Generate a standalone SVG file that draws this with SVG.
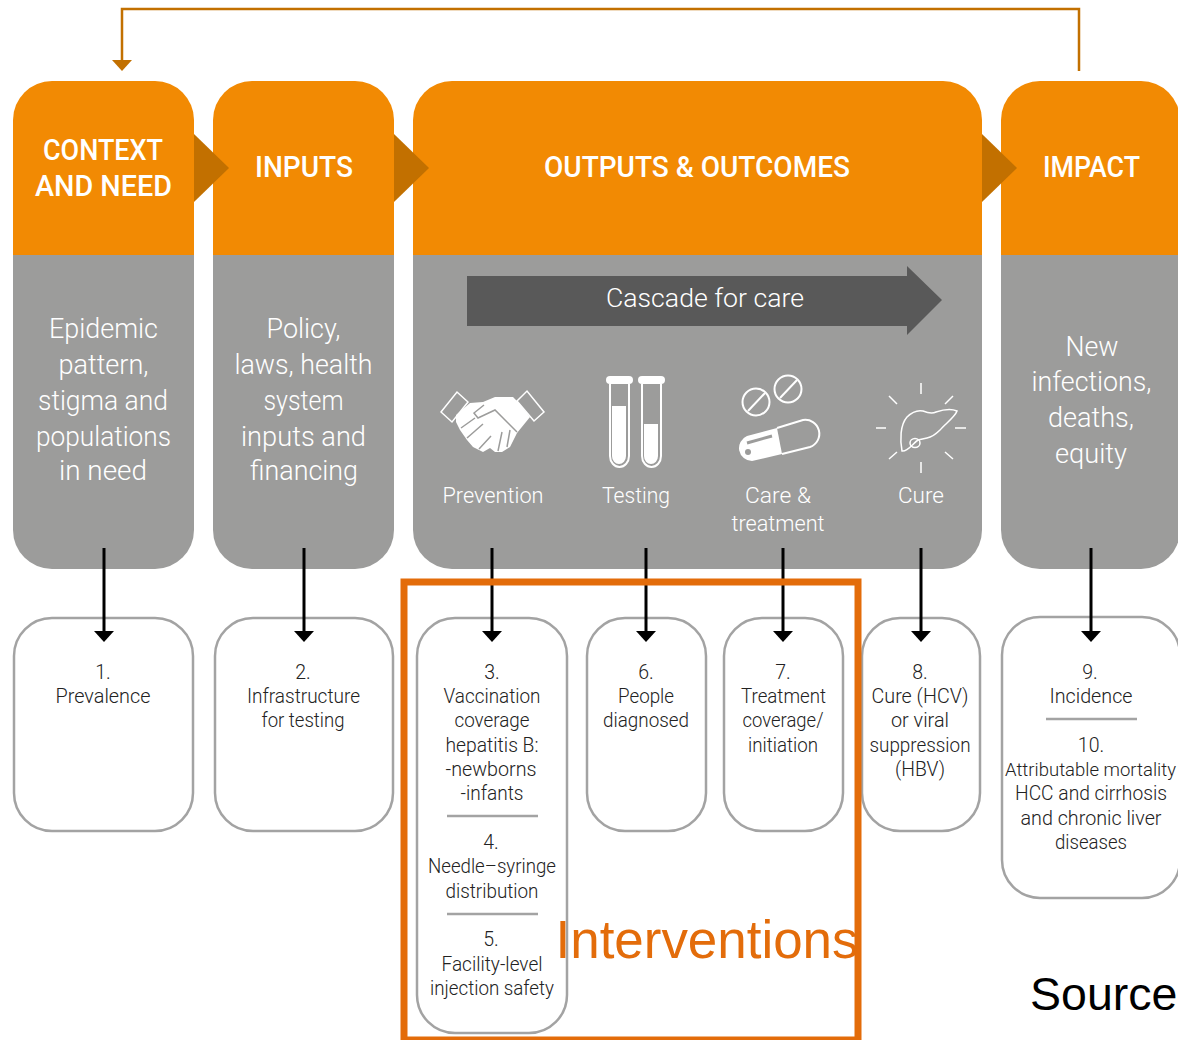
<svg xmlns="http://www.w3.org/2000/svg" width="1178" height="1040" viewBox="0 0 1178 1040">
<defs>
<style>
text{font-family:"Roboto","Liberation Sans",sans-serif;text-anchor:middle}
.h{font-size:29px;font-weight:500;fill:#fff}
.g{font-size:27px;font-weight:300;fill:#fff}
.i{font-size:22.5px;font-weight:300;fill:#fff}
.b{font-size:19.5px;font-weight:300;fill:#222}
.o{fill:#f28a03}.y{fill:#9c9c9b}.d{fill:#c27000}
.box{fill:#fff;stroke:#a3a3a3;stroke-width:2.5}
.sep{stroke:#a3a3a3;stroke-width:2.5;fill:none}
.ar{stroke:#000;stroke-width:3;fill:none}
.wl{stroke:#fff;stroke-width:2;fill:none}
.wt{stroke:#fff;stroke-width:1.5;fill:none}
.gl{stroke:#9c9c9b;stroke-width:1.5;fill:none}
</style>
<marker id="ah" markerUnits="userSpaceOnUse" markerWidth="20" markerHeight="11" refX="10" refY="1" orient="0"><path d="M0 0H20L10 11Z" fill="#000"/></marker>
</defs>
<g id="feedback"><path d="M1079 71V9H122V62" fill="none" stroke="#c27000" stroke-width="2.5"/><path d="M112 60H132L122 71Z" fill="#c27000"/></g>
<g id="context">
<path class="y" d="M13 255H194V530a39 39 0 0 1-39 39H52a39 39 0 0 1-39-39Z"/>
<path class="o" d="M13 255V120a39 39 0 0 1 39-39H155a39 39 0 0 1 39 39V255Z"/>
<text class="h" x="103" y="160" textLength="120" lengthAdjust="spacingAndGlyphs">CONTEXT</text>
<text class="h" x="103.500" y="196" textLength="137" lengthAdjust="spacingAndGlyphs">AND NEED</text>
<text class="g" x="103.500" y="338" textLength="109" lengthAdjust="spacingAndGlyphs">Epidemic</text>
<text class="g" x="103.500" y="374" textLength="90" lengthAdjust="spacingAndGlyphs">pattern,</text>
<text class="g" x="103" y="410" textLength="130" lengthAdjust="spacingAndGlyphs">stigma and</text>
<text class="g" x="103.500" y="446" textLength="135" lengthAdjust="spacingAndGlyphs">populations</text>
<text class="g" x="103" y="480" textLength="88" lengthAdjust="spacingAndGlyphs">in need</text>
</g>
<g id="inputs">
<path class="y" d="M213 255H394V530a39 39 0 0 1-39 39H252a39 39 0 0 1-39-39Z"/>
<path class="o" d="M213 255V120a39 39 0 0 1 39-39H355a39 39 0 0 1 39 39V255Z"/>
<text class="h" x="304" y="177" textLength="98" lengthAdjust="spacingAndGlyphs">INPUTS</text>
<text class="g" x="303.500" y="338" textLength="74" lengthAdjust="spacingAndGlyphs">Policy,</text>
<text class="g" x="303.500" y="374" textLength="138" lengthAdjust="spacingAndGlyphs">laws, health</text>
<text class="g" x="303.500" y="410" textLength="80" lengthAdjust="spacingAndGlyphs">system</text>
<text class="g" x="303.500" y="446" textLength="125" lengthAdjust="spacingAndGlyphs">inputs and</text>
<text class="g" x="304" y="480" textLength="108" lengthAdjust="spacingAndGlyphs">financing</text>
</g>
<g id="outcomes">
<path class="y" d="M413 255H982V530a39 39 0 0 1-39 39H452a39 39 0 0 1-39-39Z"/>
<path class="o" d="M413 255V120a39 39 0 0 1 39-39H943a39 39 0 0 1 39 39V255Z"/>
<text class="h" x="697" y="177" textLength="306" lengthAdjust="spacingAndGlyphs">OUTPUTS &amp; OUTCOMES</text>
<path fill="#595959" d="M467 276H907V266L942 300L907 335V326H467Z"/>
<text x="705" y="307" font-size="26" font-weight="300" fill="#fff" textLength="198" lengthAdjust="spacingAndGlyphs">Cascade for care</text>
</g>
<g id="prevention">
<path class="wt" d="M441 412L457 392L468 402L452 422ZM517 401L527 391L544 412L534 421Z"/>
<path fill="#fff" d="M456 415L470 403L483 402L495 397L513 397L518 402L530 417L517 433L510 447L502 452L495 452L490 448L483 452L473 447L467 440L460 430L456 422Z"/>
<path class="gl" d="M484 405L474 413L478 418L495 410L517 432M475 418L461 428M483 424L467 438M491 436L479 449M502 432L498 451M510 430L507 447"/>
<text class="i" x="493" y="503" textLength="101" lengthAdjust="spacingAndGlyphs">Prevention</text>
</g>
<g id="testing">
<rect x="606" y="376" width="27" height="8" rx="4" fill="#fff"/><rect x="638" y="376" width="27" height="8" rx="4" fill="#fff"/>
<path class="wl" d="M610 384V456a9.500 11 0 0 0 19 0V384M642 384V456a9.500 11 0 0 0 19 0V384"/>
<path fill="#fff" d="M612 406H626V456a7 8 0 0 1-14 0ZM644 424H658V456a7 8 0 0 1-14 0Z"/>
<text class="i" x="636" y="503" textLength="68" lengthAdjust="spacingAndGlyphs">Testing</text>
</g>
<g id="care">
<circle class="wl" cx="756" cy="402" r="13.500"/><path class="wl" d="M748 411L765 393"/>
<circle class="wl" cx="788" cy="389" r="13.500"/><path class="wl" d="M780 398L797 380"/>
<path class="wl" d="M777 428L803 420a14 14 0 0 1 7 27L782 454"/>
<path fill="#fff" d="M777 428L782 454L752 461a13 13 0 0 1-5-25Z"/>
<path d="M747 443L772 436" stroke="#9c9c9b" stroke-width="3"/><circle cx="748" cy="452" r="3" fill="#9c9c9b"/>
<text class="i" x="778" y="503" textLength="66" lengthAdjust="spacingAndGlyphs">Care &amp;</text>
<text class="i" x="778" y="531" textLength="93" lengthAdjust="spacingAndGlyphs">treatment</text>
</g>
<g id="cure">
<path class="wt" d="M921 383V394M921 462V473M876 428H886M955 428H966M889 396L897 404M953 396L945 404M889 459L897 452M953 459L945 452"/>
<path class="wt" d="M902 451C900 440 900 425 907 417C912 412 918 410 923 411C928 413 932 414 936 412C942 410 950 408 957 411C955 417 945 424 940 430C935 435 932 437 927 438L918 440C913 443 908 452 902 451Z"/>
<ellipse class="wt" cx="915" cy="443" rx="5" ry="4.500"/>
<text class="i" x="921" y="503" textLength="46" lengthAdjust="spacingAndGlyphs">Cure</text>
</g>
<g id="impact">
<path class="y" d="M1001 255H1180V530a39 39 0 0 1-39 39H1040a39 39 0 0 1-39-39Z"/>
<path class="o" d="M1001 255V120a39 39 0 0 1 39-39H1141a39 39 0 0 1 39 39V255Z"/>
<text class="h" x="1091.500" y="177" textLength="97" lengthAdjust="spacingAndGlyphs">IMPACT</text>
<text class="g" x="1092" y="356" textLength="53" lengthAdjust="spacingAndGlyphs">New</text>
<text class="g" x="1091.500" y="391" textLength="120" lengthAdjust="spacingAndGlyphs">infections,</text>
<text class="g" x="1091" y="427" textLength="86" lengthAdjust="spacingAndGlyphs">deaths,</text>
<text class="g" x="1091" y="463" textLength="72" lengthAdjust="spacingAndGlyphs">equity</text>
</g>
<g id="chevrons" class="d"><path d="M194 134L229 168L194 202Z"/><path d="M394 134L429 168L394 202Z"/><path d="M982 134L1017 168L982 202Z"/></g>
<g id="ind1"><rect class="box" x="14" y="618" width="179" height="213" rx="38"/>
<text class="b" x="103" y="679">1.</text><text class="b" x="103" y="703" textLength="95" lengthAdjust="spacingAndGlyphs">Prevalence</text></g>
<g id="ind2"><rect class="box" x="215" y="618" width="178" height="213" rx="38"/>
<text class="b" x="303" y="679">2.</text><text class="b" x="303.500" y="703" textLength="113" lengthAdjust="spacingAndGlyphs">Infrastructure</text><text class="b" x="303" y="727" textLength="83" lengthAdjust="spacingAndGlyphs">for testing</text></g>
<g id="ind3"><rect class="box" x="417" y="618" width="150" height="415" rx="38"/>
<text class="b" x="492" y="679">3.</text><text class="b" x="492" y="703" textLength="97" lengthAdjust="spacingAndGlyphs">Vaccination</text><text class="b" x="492" y="727" textLength="75" lengthAdjust="spacingAndGlyphs">coverage</text><text class="b" x="492" y="752" textLength="93" lengthAdjust="spacingAndGlyphs">hepatitis B:</text><text class="b" x="491" y="776" textLength="91" lengthAdjust="spacingAndGlyphs">-newborns</text><text class="b" x="492" y="800" textLength="63" lengthAdjust="spacingAndGlyphs">-infants</text>
<path class="sep" d="M447 816H538"/>
<text class="b" x="491" y="849">4.</text><text class="b" x="492" y="873" textLength="128" lengthAdjust="spacingAndGlyphs">Needle–syringe</text><text class="b" x="492" y="898" textLength="93" lengthAdjust="spacingAndGlyphs">distribution</text>
<path class="sep" d="M447 914H538"/>
<text class="b" x="491" y="946">5.</text><text class="b" x="492" y="971" textLength="101" lengthAdjust="spacingAndGlyphs">Facility-level</text><text class="b" x="492" y="995" textLength="124" lengthAdjust="spacingAndGlyphs">injection safety</text></g>
<g id="ind6"><rect class="box" x="587" y="618" width="119" height="213" rx="38"/>
<text class="b" x="646" y="679">6.</text><text class="b" x="646" y="703" textLength="56" lengthAdjust="spacingAndGlyphs">People</text><text class="b" x="646" y="727" textLength="86" lengthAdjust="spacingAndGlyphs">diagnosed</text></g>
<g id="ind7"><rect class="box" x="724" y="618" width="119" height="213" rx="38"/>
<text class="b" x="783" y="679">7.</text><text class="b" x="783.500" y="703" textLength="85" lengthAdjust="spacingAndGlyphs">Treatment</text><text class="b" x="783" y="727" textLength="81" lengthAdjust="spacingAndGlyphs">coverage/</text><text class="b" x="783" y="752" textLength="70" lengthAdjust="spacingAndGlyphs">initiation</text></g>
<g id="ind8"><rect class="box" x="862" y="618" width="118" height="213" rx="38"/>
<text class="b" x="920" y="679">8.</text><text class="b" x="920" y="703" textLength="97" lengthAdjust="spacingAndGlyphs">Cure (HCV)</text><text class="b" x="920" y="727" textLength="58" lengthAdjust="spacingAndGlyphs">or viral</text><text class="b" x="920" y="752" textLength="101" lengthAdjust="spacingAndGlyphs">suppression</text><text class="b" x="920" y="776" textLength="50" lengthAdjust="spacingAndGlyphs">(HBV)</text></g>
<g id="ind9"><rect class="box" x="1002" y="617" width="178" height="281" rx="38"/>
<text class="b" x="1090" y="679">9.</text><text class="b" x="1091" y="703" textLength="83" lengthAdjust="spacingAndGlyphs">Incidence</text>
<path class="sep" d="M1046 719H1137"/>
<text class="b" x="1091" y="752">10.</text><text x="1090.500" y="776" font-size="18.800" font-weight="300" fill="#222" textLength="171" lengthAdjust="spacingAndGlyphs">Attributable mortality</text><text class="b" x="1091" y="800" textLength="152" lengthAdjust="spacingAndGlyphs">HCC and cirrhosis</text><text class="b" x="1091" y="825" textLength="141" lengthAdjust="spacingAndGlyphs">and chronic liver</text><text class="b" x="1091" y="849" textLength="72" lengthAdjust="spacingAndGlyphs">diseases</text></g>
<g id="connectors">
<path class="ar" d="M104 548V632" marker-end="url(#ah)"/>
<path class="ar" d="M304 548V632" marker-end="url(#ah)"/>
<path class="ar" d="M492 548V632" marker-end="url(#ah)"/>
<path class="ar" d="M646 548V632" marker-end="url(#ah)"/>
<path class="ar" d="M783 548V632" marker-end="url(#ah)"/>
<path class="ar" d="M921 548V632" marker-end="url(#ah)"/>
<path class="ar" d="M1091 548V632" marker-end="url(#ah)"/>
</g>
<g id="interventions"><rect x="404" y="582" width="454" height="458" fill="none" stroke="#e36c0a" stroke-width="7"/>
<text x="707" y="958" font-size="54" fill="#e36c0a" style="font-family:'Liberation Sans',sans-serif" textLength="303" lengthAdjust="spacingAndGlyphs">Interventions</text></g>
<text x="1030" y="1010" font-size="46.500" fill="#000" style="font-family:'Liberation Sans',sans-serif;text-anchor:start">Source</text>
</svg>
